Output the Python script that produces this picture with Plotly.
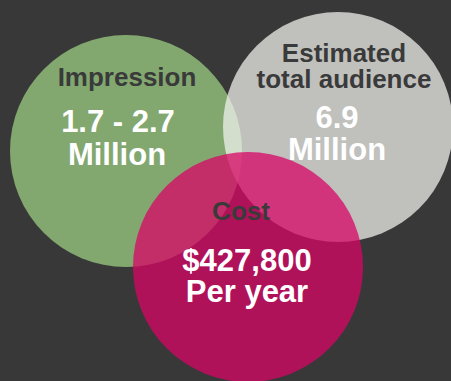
import plotly.graph_objects as go

# Content of the three overlapping circles
labels = ["Impression", "Estimated<br>total audience", "Cost"]
values = ["1.7 - 2.7<br>Million", "6.9<br>Million", "$427,800<br>Per year"]

# Circle geometry (pixel space: x to the right, y downward) and fills
centers = [(126, 151), (338, 127), (248, 267)]
radii = [116, 115, 115]
fills = ["rgb(130,168,112)", "rgba(242,242,238,0.73)", "rgba(216,5,101,0.75)"]

# Text line centers for each label / value line
label_pos = [[(127, 79)], [(344, 55), (344, 81)], [(241, 213)]]
value_pos = [[(118, 124.5), (117, 157.5)], [(337, 120.5), (337, 152.5)],
             [(247, 263.5), (247, 294.5)]]

W, H = 451, 381
BG = "#383838"

shapes = []
for (cx, cy), r, f in zip(centers, radii, fills):
    shapes.append(dict(type="circle", xref="x", yref="y",
                       x0=cx - r, x1=cx + r, y0=cy - r, y1=cy + r,
                       fillcolor=f, line=dict(width=0), layer="below"))

fig = go.Figure()

def add_lines(text, positions, size, color):
    parts = text.split("<br>")
    fig.add_trace(go.Scatter(
        x=[p[0] for p in positions], y=[p[1] for p in positions],
        mode="text", text=parts, textposition="middle center",
        textfont=dict(family="Liberation Sans, Arial, sans-serif",
                      size=size, color=color, weight="bold"),
        hoverinfo="skip", showlegend=False))

for lab, pos in zip(labels, label_pos):
    add_lines(lab, pos, 26, "#3a3a3a")
for val, pos in zip(values, value_pos):
    add_lines(val, pos, 31, "#ffffff")

fig.update_layout(
    width=W, height=H, margin=dict(l=0, r=0, t=0, b=0),
    paper_bgcolor=BG, plot_bgcolor=BG, shapes=shapes,
    xaxis=dict(range=[0, W], visible=False, fixedrange=True),
    yaxis=dict(range=[H, 0], visible=False, fixedrange=True),
)

fig.write_html("out.html", config={"displayModeBar": False})
